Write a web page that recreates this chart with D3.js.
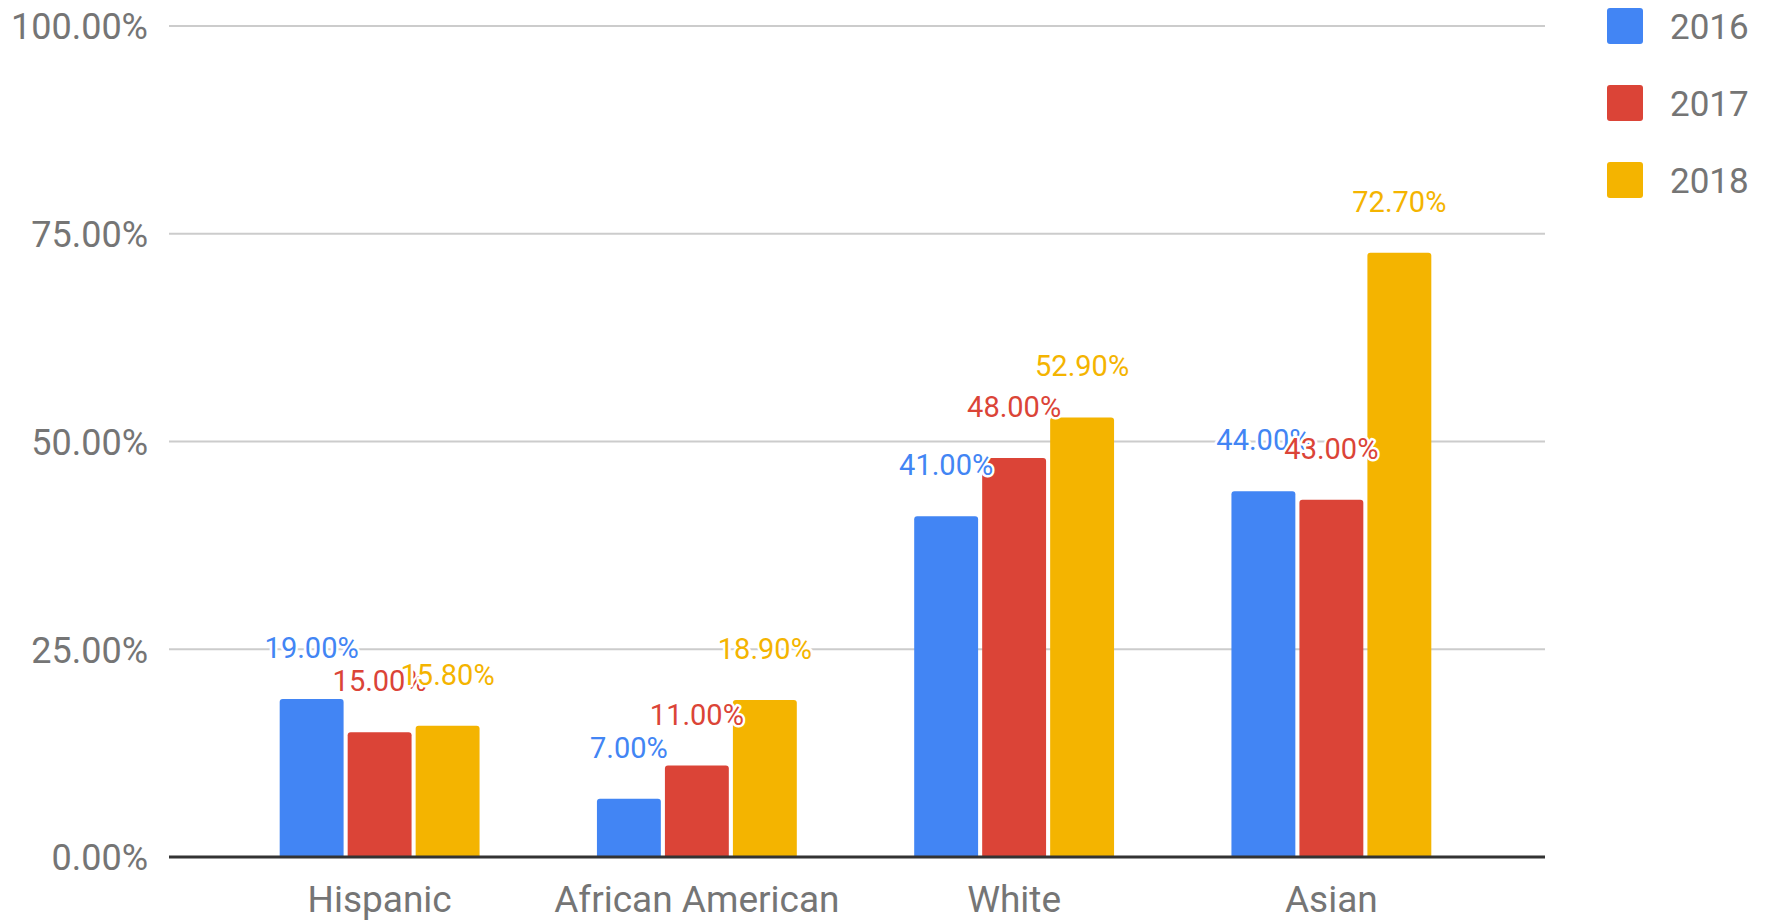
<!DOCTYPE html>
<html>
<head>
<meta charset="utf-8">
<script src="https://cdn.jsdelivr.net/npm/d3@7"></script>
<style>
  html, body { margin: 0; padding: 0; background: #fff; }
  svg { display: block; font-family: Roboto, "Noto Sans", sans-serif; }
</style>
</head>
<body>
<svg id="chart" width="1769" height="920"></svg>
<script>
// Share of students by group and year (percent)
const categories = ["Hispanic", "African American", "White", "Asian"];
const seriesNames = ["2016", "2017", "2018"];
const values2016 = [19.0, 7.0, 41.0, 44.0];
const values2017 = [15.0, 11.0, 48.0, 43.0];
const values2018 = [15.8, 18.9, 52.9, 72.7];
const yTicks = [0, 25, 50, 75, 100];
const seriesColors = ["#4285F4", "#DB4437", "#F4B400"];

const seriesValues = [values2016, values2017, values2018];

const svg = d3.select("#chart");

const plotLeft = 169, plotRight = 1545;
const y = d3.scaleLinear().domain([0, 100]).range([857, 26]);

const x0 = d3.scaleBand()
  .domain(categories)
  .range([221, 1490])
  .paddingInner(0.37)
  .paddingOuter(0.185);

const x1 = d3.scaleBand()
  .domain(seriesNames)
  .range([0, x0.bandwidth()])
  .paddingInner(0.06)
  .paddingOuter(0);

const fmt = v => d3.format(".2f")(v) + "%";

// Gridlines
svg.append("g")
  .selectAll("line")
  .data(yTicks.filter(t => t !== 0))
  .join("line")
  .attr("x1", plotLeft).attr("x2", plotRight)
  .attr("y1", d => y(d)).attr("y2", d => y(d))
  .attr("stroke", "#cccccc")
  .attr("stroke-width", 2);

// Y axis labels
const yAxis = d3.axisLeft(y).tickValues(yTicks).tickSize(0).tickPadding(0)
  .tickFormat(d => d3.format(".2f")(d) + "%");
const yg = svg.append("g").attr("transform", `translate(148,0)`).call(yAxis);
yg.select(".domain").remove();
yg.selectAll("text")
  .attr("fill", "#757575")
  .attr("font-size", 36)
  .attr("font-family", "Roboto, sans-serif")
  .attr("dy", "0.36em");

// Rounded-top bar path
function barPath(x, yTop, w, yBase, r) {
  const h = yBase - yTop;
  r = Math.min(r, h, w / 2);
  return `M${x},${yBase}V${yTop + r}Q${x},${yTop} ${x + r},${yTop}` +
         `H${x + w - r}Q${x + w},${yTop} ${x + w},${yTop + r}V${yBase}Z`;
}

const rows = [];
categories.forEach((c, i) => {
  seriesNames.forEach((s, j) => {
    rows.push({ cat: c, series: s, si: j, value: seriesValues[j][i] });
  });
});

// Bars
svg.append("g")
  .selectAll("path")
  .data(rows)
  .join("path")
  .attr("d", d => barPath(x0(d.cat) + x1(d.series), y(d.value), x1.bandwidth(), y(0), 3))
  .attr("fill", d => seriesColors[d.si]);

// Baseline
svg.append("line")
  .attr("x1", plotLeft).attr("x2", plotRight)
  .attr("y1", y(0)).attr("y2", y(0))
  .attr("stroke", "#333333")
  .attr("stroke-width", 3);

// X axis labels
const xAxis = d3.axisBottom(x0).tickSize(0).tickPadding(0);
const xg = svg.append("g").attr("transform", `translate(0,${y(0)})`).call(xAxis);
xg.select(".domain").remove();
xg.selectAll("text")
  .attr("fill", "#757575")
  .attr("font-size", 37)
  .attr("font-family", "Roboto, sans-serif")
  .attr("dy", null)
  .attr("y", 55);

// Value annotations with white halo
svg.append("g")
  .selectAll("text")
  .data(rows)
  .join("text")
  .attr("x", d => x0(d.cat) + x1(d.series) + x1.bandwidth() / 2)
  .attr("y", d => y(d.value) - 41)
  .attr("text-anchor", "middle")
  .attr("font-size", 29)
  .attr("fill", d => seriesColors[d.si])
  .attr("stroke", "#ffffff")
  .attr("stroke-width", 5)
  .attr("stroke-linejoin", "round")
  .attr("paint-order", "stroke")
  .text(d => fmt(d.value));

// Legend
const legend = svg.append("g")
  .selectAll("g")
  .data(seriesNames)
  .join("g")
  .attr("transform", (d, i) => `translate(1607,${8 + i * 77})`);
legend.append("rect")
  .attr("width", 36).attr("height", 36)
  .attr("rx", 3).attr("ry", 3)
  .attr("fill", (d, i) => seriesColors[i]);
legend.append("text")
  .attr("x", 63).attr("y", 18)
  .attr("dy", "0.36em")
  .attr("font-size", 35)
  .attr("fill", "#757575")
  .text(d => d);
</script>
</body>
</html>
